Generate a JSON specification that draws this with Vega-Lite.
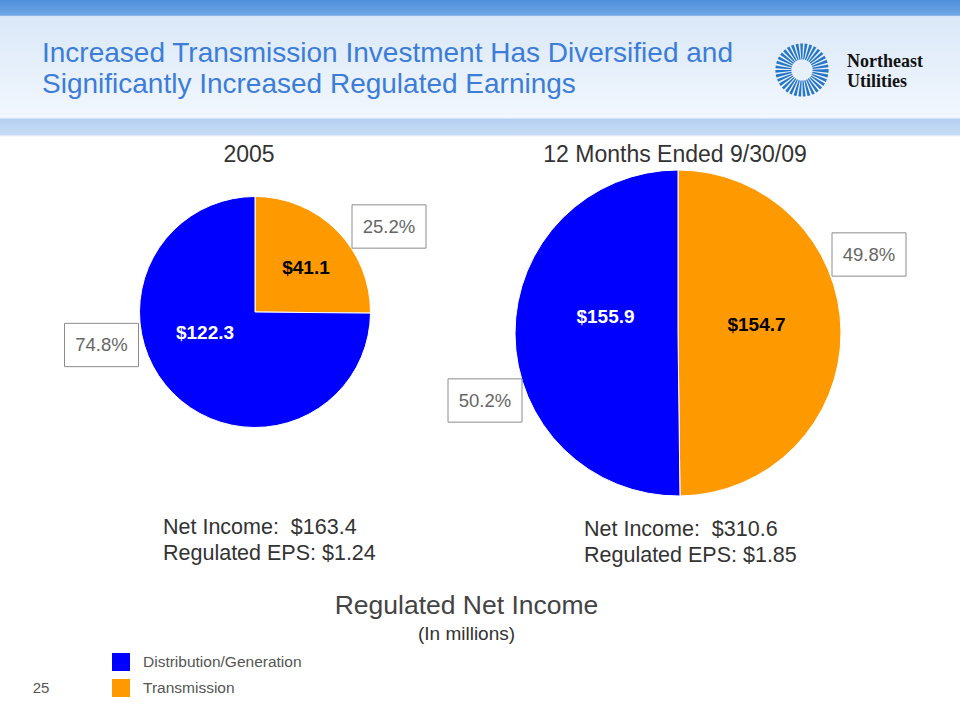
{
  "$schema": "https://vega.github.io/schema/vega-lite/v6.json",
  "autosize": {"type": "none"},
  "width": 960,
  "height": 720,
  "padding": 0,
  "background": "white",
  "config": {
    "font": "Liberation Sans",
    "view": {
      "stroke": null,
      "fill": {"gradient": "linear", "x1": 0, "y1": 0, "x2": 0, "y2": 1, "stops": [
        {"offset": 0, "color": "#4f8fdc"},
        {"offset": 0.021, "color": "#6ea6e4"},
        {"offset": 0.023, "color": "#dae8f8"},
        {"offset": 0.163, "color": "#f2f7fd"},
        {"offset": 0.166, "color": "#b3d0f1"},
        {"offset": 0.187, "color": "#c8dcf4"},
        {"offset": 0.19, "color": "#ffffff"},
        {"offset": 1, "color": "#ffffff"}
      ]}
    }
  },
  "datasets": {
    "segments": [
      {"period": "2005", "segment": "Transmission", "value": 41.1, "label": "$41.1", "pct": "25.2%"},
      {"period": "2005", "segment": "Distribution/Generation", "value": 122.3, "label": "$122.3", "pct": "74.8%"},
      {"period": "12 Months Ended 9/30/09", "segment": "Transmission", "value": 154.7, "label": "$154.7", "pct": "49.8%"},
      {"period": "12 Months Ended 9/30/09", "segment": "Distribution/Generation", "value": 155.9, "label": "$155.9", "pct": "50.2%"}
    ],
    "periods": [
      {"period": "2005", "lines": ["Net Income:\u00a0 $163.4", "Regulated EPS: $1.24"]},
      {"period": "12 Months Ended 9/30/09", "lines": ["Net Income:\u00a0 $310.6", "Regulated EPS: $1.85"]}
    ]
  },
  "data": {"name": "segments"},
  "encoding": {
    "x": {"field": "period", "type": "nominal", "axis": null,
      "scale": {"type": "band", "domain": ["2005", "12 Months Ended 9/30/09"], "range": [43.5, 889.5], "paddingInner": 0, "paddingOuter": 0}},
    "y": {"field": "period", "type": "nominal", "axis": null,
      "scale": {"type": "point", "domain": ["2005", "12 Months Ended 9/30/09"], "range": [312, 333], "padding": 0}}
  },
  "layer": [
    {
      "transform": [{"filter": "datum.period === '2005'"}],
      "mark": {"type": "arc", "outerRadius": 115.5, "stroke": "white", "strokeWidth": 1},
      "encoding": {
        "theta": {"field": "value", "type": "quantitative", "stack": "normalize", "scale": {"domain": [0, 1]}},
        "order": {"field": "segment", "sort": "descending"},
        "color": {"field": "segment", "type": "nominal",
          "scale": {"domain": ["Distribution/Generation", "Transmission"], "range": ["#0000ff", "#ff9900"]},
          "legend": {"orient": "none", "legendX": 112, "legendY": 653, "title": null, "symbolType": "square",
            "symbolSize": 324, "symbolStrokeWidth": 0, "labelFontSize": 15.5, "labelColor": "#555555",
            "labelFont": "Liberation Sans", "labelLimit": 400, "rowPadding": 8, "labelOffset": 13, "symbolOpacity": 1,
            "encode": {"symbols": {
              "enter": {"fill": {"signal": "datum.value === 'Transmission' ? '#ff9900' : '#3366dd'"}},
              "update": {"fill": {"signal": "datum.value === 'Transmission' ? '#ff9900' : '#3366dd'"}, "opacity": {"value": 1}}}}}}
      }
    },
    {
      "transform": [{"filter": "datum.period !== '2005'"}],
      "mark": {"type": "arc", "outerRadius": 163, "stroke": "white", "strokeWidth": 1},
      "encoding": {
        "theta": {"field": "value", "type": "quantitative", "stack": "normalize"},
        "order": {"field": "segment", "sort": "descending"},
        "color": {"field": "segment", "type": "nominal"}
      }
    },
    {
      "transform": [{"filter": "datum.period === '2005' && datum.segment === 'Transmission'"}],
      "mark": {"type": "text", "dx": 51, "dy": -44, "fontSize": 19, "fontWeight": "bold", "fill": "black", "align": "center", "baseline": "middle"},
      "encoding": {"text": {"field": "label"}}
    },
    {
      "transform": [{"filter": "datum.period === '2005' && datum.segment !== 'Transmission'"}],
      "mark": {"type": "text", "dx": -50, "dy": 21, "fontSize": 19, "fontWeight": "bold", "fill": "white", "align": "center", "baseline": "middle"},
      "encoding": {"text": {"field": "label"}}
    },
    {
      "transform": [{"filter": "datum.period !== '2005' && datum.segment === 'Transmission'"}],
      "mark": {"type": "text", "dx": 78.5, "dy": -8, "fontSize": 19, "fontWeight": "bold", "fill": "black", "align": "center", "baseline": "middle"},
      "encoding": {"text": {"field": "label"}}
    },
    {
      "transform": [{"filter": "datum.period !== '2005' && datum.segment !== 'Transmission'"}],
      "mark": {"type": "text", "dx": -72.5, "dy": -16, "fontSize": 19, "fontWeight": "bold", "fill": "white", "align": "center", "baseline": "middle"},
      "encoding": {"text": {"field": "label"}}
    },
    {
      "transform": [{"filter": "datum.period === '2005' && datum.segment === 'Transmission'"}],
      "layer": [
        {"mark": {"type": "point", "shape": "M-1,-0.585H1V0.585H-1Z", "size": 5476, "filled": false, "stroke": "#8c8c8c", "strokeWidth": 1, "opacity": 1, "xOffset": 134, "yOffset": -85.5}},
        {"mark": {"type": "text", "dx": 134, "dy": -85.5, "fontSize": 18.5, "fill": "#666666", "align": "center", "baseline": "middle"}, "encoding": {"text": {"field": "pct"}}}
      ]
    },
    {
      "transform": [{"filter": "datum.period === '2005' && datum.segment !== 'Transmission'"}],
      "layer": [
        {"mark": {"type": "point", "shape": "M-1,-0.585H1V0.585H-1Z", "size": 5476, "filled": false, "stroke": "#8c8c8c", "strokeWidth": 1, "opacity": 1, "xOffset": -153.5, "yOffset": 33}},
        {"mark": {"type": "text", "dx": -153.5, "dy": 33, "fontSize": 18.5, "fill": "#666666", "align": "center", "baseline": "middle"}, "encoding": {"text": {"field": "pct"}}}
      ]
    },
    {
      "transform": [{"filter": "datum.period !== '2005' && datum.segment === 'Transmission'"}],
      "layer": [
        {"mark": {"type": "point", "shape": "M-1,-0.585H1V0.585H-1Z", "size": 5476, "filled": false, "stroke": "#8c8c8c", "strokeWidth": 1, "opacity": 1, "xOffset": 191, "yOffset": -78.5}},
        {"mark": {"type": "text", "dx": 191, "dy": -78.5, "fontSize": 18.5, "fill": "#666666", "align": "center", "baseline": "middle"}, "encoding": {"text": {"field": "pct"}}}
      ]
    },
    {
      "transform": [{"filter": "datum.period !== '2005' && datum.segment !== 'Transmission'"}],
      "layer": [
        {"mark": {"type": "point", "shape": "M-1,-0.585H1V0.585H-1Z", "size": 5476, "filled": false, "stroke": "#8c8c8c", "strokeWidth": 1, "opacity": 1, "xOffset": -193, "yOffset": 67.5}},
        {"mark": {"type": "text", "dx": -193, "dy": 67.5, "fontSize": 18.5, "fill": "#666666", "align": "center", "baseline": "middle"}, "encoding": {"text": {"field": "pct"}}}
      ]
    },
    {
      "data": {"name": "periods"},
      "transform": [{"filter": "datum.period === '2005'"}],
      "layer": [
        {"mark": {"type": "text", "dx": -6, "dy": -157, "fontSize": 23, "fill": "#333333", "align": "center", "baseline": "middle"}, "encoding": {"text": {"field": "period"}}},
        {"mark": {"type": "text", "dx": -92, "dy": 216, "fontSize": 21.5, "fill": "#333333", "align": "left", "baseline": "middle", "lineHeight": 26}, "encoding": {"text": {"field": "lines"}}}
      ]
    },
    {
      "data": {"name": "periods"},
      "transform": [{"filter": "datum.period !== '2005'"}],
      "layer": [
        {"mark": {"type": "text", "dx": -3, "dy": -178, "fontSize": 23, "fill": "#333333", "align": "center", "baseline": "middle"}, "encoding": {"text": {"field": "period"}}},
        {"mark": {"type": "text", "dx": -94, "dy": 197, "fontSize": 21.5, "fill": "#333333", "align": "left", "baseline": "middle", "lineHeight": 26}, "encoding": {"text": {"field": "lines"}}}
      ]
    },
    {
      "data": {"values": [{"title": ["Increased Transmission Investment Has Diversified and", "Significantly Increased Regulated Earnings"]}]},
      "mark": {"type": "text", "dx": -1.5, "dy": -250, "fontSize": 28, "fill": "#3c7dd9", "align": "left", "baseline": "alphabetic", "lineHeight": 31},
      "encoding": {
        "x": {"datum": "2005", "type": "nominal", "bandPosition": 0},
        "y": {"datum": "2005", "type": "nominal"},
        "text": {"field": "title"}
      }
    },
    {
      "data": {"values": [{"title": "Regulated Net Income", "unit": "(In millions)"}]},
      "encoding": {
        "x": {"datum": "2005", "type": "nominal", "bandPosition": 1},
        "y": {"datum": "2005", "type": "nominal"}
      },
      "layer": [
        {"mark": {"type": "text", "dy": 294, "fontSize": 26.5, "fill": "#444444", "align": "center", "baseline": "middle"}, "encoding": {"text": {"field": "title"}}},
        {"mark": {"type": "text", "dy": 322, "fontSize": 19, "fill": "#333333", "align": "center", "baseline": "middle"}, "encoding": {"text": {"field": "unit"}}}
      ]
    },
    {
      "data": {"values": [{"page": "25"}]},
      "mark": {"type": "text", "dx": -2.5, "dy": 376, "fontSize": 15, "fill": "#555555", "align": "center", "baseline": "middle"},
      "encoding": {
        "x": {"datum": "2005", "type": "nominal", "bandPosition": 0},
        "y": {"datum": "2005", "type": "nominal"},
        "text": {"field": "page"}
      }
    },
    {
      "data": {"values": [{"company": ["Northeast", "Utilities"]}]},
      "encoding": {
        "x": {"datum": "12 Months Ended 9/30/09", "type": "nominal", "bandPosition": 1},
        "y": {"datum": "12 Months Ended 9/30/09", "type": "nominal"}
      },
      "layer": [
        {"mark": {"type": "point", "shape": "circle", "size": 1385, "filled": false, "stroke": "#2676c6", "strokeWidth": 16, "strokeDash": [2, 1.3], "opacity": 1, "xOffset": -87.5, "yOffset": -263}},
        {"mark": {"type": "text", "dx": -42.5, "dy": -266, "fontSize": 18, "font": "Liberation Serif", "fontWeight": "bold", "fill": "#111111", "align": "left", "baseline": "alphabetic", "lineHeight": 20}, "encoding": {"text": {"field": "company"}}}
      ]
    }
  ]
}
